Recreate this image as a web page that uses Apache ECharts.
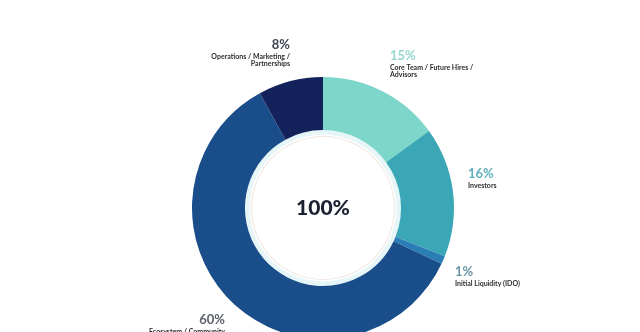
<!DOCTYPE html>
<html>
<head>
<meta charset="utf-8">
<script src="https://cdn.jsdelivr.net/npm/echarts@6/dist/echarts.min.js"></script>
<style>
  html, body { margin: 0; padding: 0; background: #ffffff; }
  #chart { width: 640px; height: 332px; }
</style>
</head>
<body>
<div id="chart"></div>
<script>
// Token allocation (percent of total supply), clockwise from 12 o'clock
const categories = [
  'Core Team / Future Hires /\nAdvisors',
  'Investors',
  'Initial Liquidity (IDO)',
  'Ecosystem / Community\nRewards',
  'Operations / Marketing /\nPartnerships'
];
const shares = [15, 16, 1, 60, 8];
const sliceColors = ['#7dd6ca', '#3ba7b6', '#2a7db5', '#1a4e8b', '#13225a'];
const pctColors = ['#95d6ce', '#5fb0ba', '#6a98a6', '#5b6069', '#3f4550'];
const totalLabel = '100%';

// where each callout sits: [x, y of the percentage, text alignment]
const callouts = [
  [390, 56, 'left'],
  [468, 174, 'left'],
  [455, 272, 'left'],
  [225, 320, 'right'],
  [290, 45, 'right']
];

const FONT = 'Lato, "Open Sans", sans-serif';
const CENTER = [323, 208];

const chart = echarts.init(document.getElementById('chart'), null, { renderer: 'canvas' });

chart.setOption({
  backgroundColor: '#ffffff',
  animation: false,
  series: [
    {
      // pale ring hugging the inside of the donut
      type: 'pie',
      silent: true,
      center: CENTER,
      radius: [73.5, 78],
      label: { show: false },
      labelLine: { show: false },
      itemStyle: { color: '#e6f6f8' },
      data: [1]
    },
    {
      // thin warm hairline inside the centre disc
      type: 'pie',
      silent: true,
      center: CENTER,
      radius: [71, 72],
      label: { show: false },
      labelLine: { show: false },
      itemStyle: { color: '#f1e6de' },
      data: [1]
    },
    {
      type: 'pie',
      center: CENTER,
      radius: [78, 131],
      startAngle: 90,
      clockwise: true,
      avoidLabelOverlap: false,
      data: shares.map((v, i) => ({
        value: v,
        name: categories[i],
        itemStyle: { color: sliceColors[i] },
        label: {
          rich: {
            p: { fontFamily: FONT, fontSize: 13, fontWeight: 'bold', color: pctColors[i], lineHeight: 16, align: callouts[i][2] },
            n: { fontFamily: FONT, fontSize: 7, fontWeight: 'bold', color: '#2e2e33', lineHeight: 7, align: callouts[i][2] }
          }
        }
      })),
      label: {
        show: true,
        position: 'outside',
        formatter: p => '{p|' + p.value + '%}\n' + p.name.split('\n').map(s => '{n|' + s + '}').join('\n')
      },
      labelLine: { show: false },
      labelLayout: params => {
        const c = callouts[params.dataIndex];
        return { x: c[0], y: c[1] - 8, align: c[2], verticalAlign: 'top' };
      }
    }
  ],
  graphic: [
    {
      type: 'text',
      style: {
        x: CENTER[0], y: CENTER[1],
        text: totalLabel,
        fontFamily: FONT,
        fontSize: 21,
        fontWeight: 900,
        fill: '#1d2233',
        align: 'center',
        verticalAlign: 'middle'
      }
    }
  ]
});
</script>
</body>
</html>
